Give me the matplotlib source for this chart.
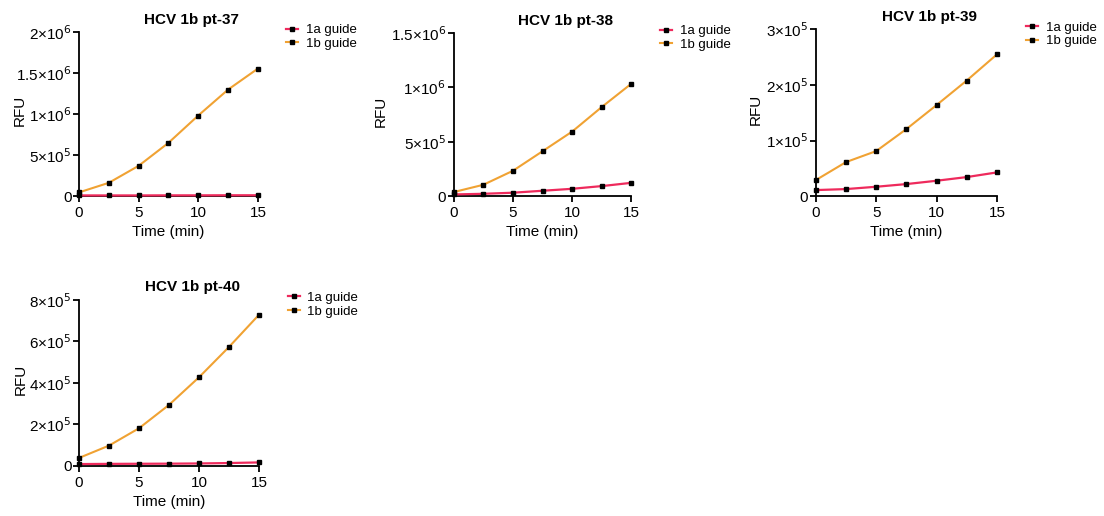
import matplotlib.pyplot as plt
from matplotlib.ticker import FuncFormatter

plt.rcParams['font.family'] = ['Liberation Sans', 'DejaVu Sans']

time_min = [0, 2.5, 5, 7.5, 10, 12.5, 15]

titles = ["HCV 1b pt-37", "HCV 1b pt-38", "HCV 1b pt-39", "HCV 1b pt-40"]

# RFU readings per panel
guide_1a = [
    [8e3, 8e3, 8e3, 9e3, 9e3, 1.0e4, 1.0e4],
    [1.5e4, 2.1e4, 3.1e4, 4.9e4, 6.7e4, 9.2e4, 1.22e5],
    [1.08e4, 1.26e4, 1.68e4, 2.16e4, 2.76e4, 3.42e4, 4.26e4],
    [9e3, 1.0e4, 1.05e4, 1.1e4, 1.2e4, 1.4e4, 1.7e4],
]
guide_1b = [
    [4.5e4, 1.62e5, 3.69e5, 6.49e5, 9.82e5, 1.298e6, 1.554e6],
    [3.7e4, 1.04e5, 2.33e5, 4.13e5, 5.94e5, 8.20e5, 1.035e6],
    [2.88e4, 6.12e4, 8.1e4, 1.206e5, 1.638e5, 2.08e5, 2.55e5],
    [3.86e4, 9.8e4, 1.815e5, 2.94e5, 4.27e5, 5.73e5, 7.28e5],
]

y_max = [2e6, 1.5e6, 3e5, 8e5]
y_step = [5e5, 5e5, 1e5, 2e5]

# axes boxes in figure fractions [left, bottom, width, height]
boxes = [
    [0.0716, 0.620, 0.162, 0.318],
    [0.411, 0.620, 0.161, 0.316],
    [0.739, 0.620, 0.164, 0.323],
    [0.0716, 0.097, 0.163, 0.322],
]
# where the RFU label sits, in axes x units
ylabel_x = [-0.29, -0.37, -0.295, -0.285]

pink = '#EE2A5C'
orange = '#F0A233'


def sci_label(v, pos):
    if v == 0:
        return "0"
    exp = 0
    m = v
    while m >= 10:
        m /= 10
        exp += 1
    if abs(m - round(m)) < 1e-9:
        ms = f"{int(round(m))}"
    else:
        ms = f"{m:g}"
    return f"{ms}×10$^{{{exp}}}$"


fig = plt.figure(figsize=(11.04, 5.16), dpi=100)

for i in range(4):
    ax = fig.add_axes(boxes[i])
    ax.plot(time_min, guide_1a[i], color=pink, lw=1.6, marker='s', ms=3,
            mfc='black', mec='black', label='1a guide', clip_on=False, zorder=3)
    ax.plot(time_min, guide_1b[i], color=orange, lw=1.5, marker='s', ms=3,
            mfc='black', mec='black', label='1b guide', clip_on=False, zorder=3)
    ax.set_xlim(0, 15)
    ax.set_ylim(0, y_max[i])
    ax.set_xticks([0, 5, 10, 15])
    ticks = []
    v = 0
    while v <= y_max[i] + 1:
        ticks.append(v)
        v += y_step[i]
    ax.set_yticks(ticks)
    ax.yaxis.set_major_formatter(FuncFormatter(sci_label))
    for s in ['top', 'right']:
        ax.spines[s].set_visible(False)
    for s in ['left', 'bottom']:
        ax.spines[s].set_linewidth(1.3)
    ax.tick_params(width=1.3, length=4.5, labelsize=11, colors='black')
    ax.tick_params(axis='y', pad=1)
    ax.tick_params(axis='x', pad=3)
    ax.set_xlabel("Time (min)", fontsize=11, labelpad=3)
    ax.set_ylabel("RFU", fontsize=11)
    ax.yaxis.set_label_coords(ylabel_x[i], 0.52)
    ax.set_title(titles[i], fontsize=11, fontweight='bold', x=0.63, pad=6)
    ax.legend(loc='upper left', bbox_to_anchor=(1.13, 1.08), frameon=False,
              fontsize=9.5, handlelength=0.9, handletextpad=0.6,
              labelspacing=0.1, borderaxespad=0, markerscale=0.8)

fig.savefig("out.png", dpi=100)
